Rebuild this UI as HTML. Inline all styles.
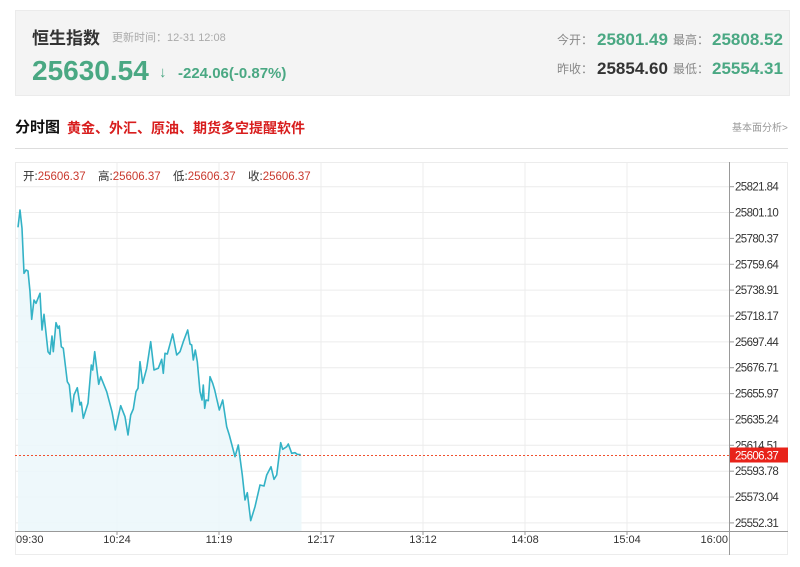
<!DOCTYPE html>
<html><head><meta charset="utf-8"><style>
*{margin:0;padding:0;box-sizing:border-box}
body{width:800px;height:567px;background:#fff;position:relative;overflow:hidden;font-family:"Liberation Sans","Noto Sans CJK SC",sans-serif}
.a{position:absolute;white-space:nowrap;line-height:1}
.hdr{position:absolute;left:15px;top:10px;width:775px;height:86px;background:#f4f4f4;border:1px solid #ebebeb}
.g{color:#4aa883;font-weight:bold}
.lb{color:#888;font-size:12px}
</style></head><body>
<div class="hdr"></div>
<div class="a" style="left:32px;top:30px;font-size:17px;font-weight:bold;color:#333">恒生指数</div>
<div class="a" style="left:112px;top:33px;font-size:11px;color:#aaa">更新时间：12-31 12:08</div>
<div class="a g" style="left:32px;top:57px;font-size:28px">25630.54</div>
<div class="a g" style="left:159px;top:65px;font-size:15px">↓</div>
<div class="a g" style="left:178px;top:66px;font-size:15px">-224.06(-0.87%)</div>

<div class="a lb" style="left:557px;top:34px">今开：</div>
<div class="a g" style="left:597px;top:31px;font-size:17px">25801.49</div>
<div class="a lb" style="left:673px;top:34px">最高：</div>
<div class="a g" style="left:712px;top:31px;font-size:17px">25808.52</div>
<div class="a lb" style="left:557px;top:63px">昨收：</div>
<div class="a" style="left:597px;top:60px;font-size:17px;font-weight:bold;color:#333">25854.60</div>
<div class="a lb" style="left:673px;top:63px">最低：</div>
<div class="a g" style="left:712px;top:60px;font-size:17px">25554.31</div>

<div class="a" style="left:15px;top:120px;font-size:15px;font-weight:bold;color:#111">分时图</div>
<div class="a" style="left:67px;top:121px;font-size:14px;font-weight:bold;color:#d81e1e">黄金、外汇、原油、期货多空提醒软件</div>
<div class="a" style="left:732px;top:124px;font-size:10px;color:#999">基本面分析&gt;</div>
<div style="position:absolute;left:15px;top:148px;width:773px;height:1px;background:#ddd"></div>

<svg style="position:absolute;left:0;top:0" width="800" height="567" xmlns="http://www.w3.org/2000/svg">
<rect x="15.5" y="162.5" width="772" height="392" fill="#fff" stroke="#ececec"/>
<g stroke="#ececec" stroke-width="1">
<line x1="15" x2="729" y1="186.7" y2="186.7"/><line x1="15" x2="729" y1="212.5" y2="212.5"/><line x1="15" x2="729" y1="238.4" y2="238.4"/><line x1="15" x2="729" y1="264.3" y2="264.3"/><line x1="15" x2="729" y1="290.1" y2="290.1"/><line x1="15" x2="729" y1="316" y2="316"/><line x1="15" x2="729" y1="341.9" y2="341.9"/><line x1="15" x2="729" y1="367.7" y2="367.7"/><line x1="15" x2="729" y1="393.6" y2="393.6"/><line x1="15" x2="729" y1="419.4" y2="419.4"/><line x1="15" x2="729" y1="445.3" y2="445.3"/><line x1="15" x2="729" y1="471.2" y2="471.2"/><line x1="15" x2="729" y1="497" y2="497"/><line x1="15" x2="729" y1="522.9" y2="522.9"/>
<line x1="117" x2="117" y1="162" y2="531"/><line x1="219" x2="219" y1="162" y2="531"/><line x1="321" x2="321" y1="162" y2="531"/><line x1="423" x2="423" y1="162" y2="531"/><line x1="525" x2="525" y1="162" y2="531"/><line x1="627" x2="627" y1="162" y2="531"/>
</g>
<polygon fill="#ecf7fb" fill-opacity="0.9" points="18,531 18,227.3 20,210 22,228.3 24,273.3 26,270 28,271 30,291.7 31.7,319.3 34,300 36,303.3 40,293.3 42,330 44,314.3 48,351.7 50,354.3 52,336 53.3,351.7 56,322.7 58,328.3 59.3,326 61.3,346.7 63.3,348.3 67.3,381.7 69.3,385 72,411.7 74,395 77.3,387.7 80,405 81.3,402.3 83.3,418.3 88,403.3 91.3,365 92.7,370 94.7,351.7 98.7,384.3 100.7,376.7 106.7,391.7 112,411.7 115.3,430 120.7,405.7 125,416.7 128,435 130.7,415 133.3,409 136,391.7 138,388.3 140,361.7 142.7,383.3 146.7,368.3 150.7,341.7 154,370 158.3,368.3 161.7,359.3 163.3,373.3 165,353.3 167.3,354 169.3,346.7 172.7,334 176.7,355 180,351.7 183.3,341.7 187.7,330 190,344 191.7,345 193.3,360 195.3,350 197.3,361.7 200,391.7 202,400 203.3,385 204.7,408.3 206,400 208.3,400.7 210,376.7 212.7,383.3 214.7,390 219.3,410 222.7,400 226.7,426.7 229.3,435 235,456.7 238.3,445 242.3,475 245,500 247.3,492.7 250.7,520.7 255,506.7 260,485 264,486 266.7,475 271,466.7 274,479.3 276.7,475 280.7,442.7 282.7,449.3 286.7,446.7 288.3,444 291.7,453.3 295,452.7 297.3,454.3 301.5,454.7 301.5,531"/>
<line x1="15" x2="729" y1="455.5" y2="455.5" stroke="#f0502f" stroke-width="1" stroke-dasharray="2,2"/>
<polyline fill="none" stroke="#33b2c6" stroke-width="1.6" stroke-linejoin="round" points="18,227.3 20,210 22,228.3 24,273.3 26,270 28,271 30,291.7 31.7,319.3 34,300 36,303.3 40,293.3 42,330 44,314.3 48,351.7 50,354.3 52,336 53.3,351.7 56,322.7 58,328.3 59.3,326 61.3,346.7 63.3,348.3 67.3,381.7 69.3,385 72,411.7 74,395 77.3,387.7 80,405 81.3,402.3 83.3,418.3 88,403.3 91.3,365 92.7,370 94.7,351.7 98.7,384.3 100.7,376.7 106.7,391.7 112,411.7 115.3,430 120.7,405.7 125,416.7 128,435 130.7,415 133.3,409 136,391.7 138,388.3 140,361.7 142.7,383.3 146.7,368.3 150.7,341.7 154,370 158.3,368.3 161.7,359.3 163.3,373.3 165,353.3 167.3,354 169.3,346.7 172.7,334 176.7,355 180,351.7 183.3,341.7 187.7,330 190,344 191.7,345 193.3,360 195.3,350 197.3,361.7 200,391.7 202,400 203.3,385 204.7,408.3 206,400 208.3,400.7 210,376.7 212.7,383.3 214.7,390 219.3,410 222.7,400 226.7,426.7 229.3,435 235,456.7 238.3,445 242.3,475 245,500 247.3,492.7 250.7,520.7 255,506.7 260,485 264,486 266.7,475 271,466.7 274,479.3 276.7,475 280.7,442.7 282.7,449.3 286.7,446.7 288.3,444 291.7,453.3 295,452.7 297.3,454.3 300.7,454.7"/>
<line x1="15" x2="788" y1="531.5" y2="531.5" stroke="#999"/>
<line x1="729.5" x2="729.5" y1="162" y2="555" stroke="#999"/>
<g stroke="#999">
<line x1="729" x2="734" y1="186.7" y2="186.7"/><line x1="729" x2="734" y1="212.5" y2="212.5"/><line x1="729" x2="734" y1="238.4" y2="238.4"/><line x1="729" x2="734" y1="264.3" y2="264.3"/><line x1="729" x2="734" y1="290.1" y2="290.1"/><line x1="729" x2="734" y1="316" y2="316"/><line x1="729" x2="734" y1="341.9" y2="341.9"/><line x1="729" x2="734" y1="367.7" y2="367.7"/><line x1="729" x2="734" y1="393.6" y2="393.6"/><line x1="729" x2="734" y1="419.4" y2="419.4"/><line x1="729" x2="734" y1="445.3" y2="445.3"/><line x1="729" x2="734" y1="471.2" y2="471.2"/><line x1="729" x2="734" y1="497" y2="497"/><line x1="729" x2="734" y1="522.9" y2="522.9"/>
<line x1="117" x2="117" y1="531" y2="535"/><line x1="219" x2="219" y1="531" y2="535"/><line x1="321" x2="321" y1="531" y2="535"/><line x1="423" x2="423" y1="531" y2="535"/><line x1="525" x2="525" y1="531" y2="535"/><line x1="627" x2="627" y1="531" y2="535"/>
</g>
<g font-family="Liberation Sans, sans-serif" font-size="11.5" fill="#333" letter-spacing="-0.6">
<text x="735" y="190.7">25821.84</text><text x="735" y="216.5">25801.10</text><text x="735" y="242.4">25780.37</text><text x="735" y="268.3">25759.64</text><text x="735" y="294.1">25738.91</text><text x="735" y="320">25718.17</text><text x="735" y="345.9">25697.44</text><text x="735" y="371.7">25676.71</text><text x="735" y="397.6">25655.97</text><text x="735" y="423.4">25635.24</text><text x="735" y="449.3">25614.51</text><text x="735" y="475.2">25593.78</text><text x="735" y="501">25573.04</text><text x="735" y="526.9">25552.31</text>
</g>
<rect x="730" y="447.5" width="58" height="15" fill="#e8231a"/>
<text x="735" y="459.3" font-family="Liberation Sans, sans-serif" font-size="11.5" fill="#fff" letter-spacing="-0.6">25606.37</text>
<g font-family="Liberation Sans, sans-serif" font-size="11" fill="#333">
<text x="16" y="543">09:30</text>
<text x="117" y="543" text-anchor="middle">10:24</text>
<text x="219" y="543" text-anchor="middle">11:19</text>
<text x="321" y="543" text-anchor="middle">12:17</text>
<text x="423" y="543" text-anchor="middle">13:12</text>
<text x="525" y="543" text-anchor="middle">14:08</text>
<text x="627" y="543" text-anchor="middle">15:04</text>
<text x="728" y="543" text-anchor="end">16:00</text>
</g>
<g font-family="Liberation Sans, Noto Sans CJK SC, sans-serif" font-size="11.5">
<text x="23" y="180"><tspan fill="#333">开:</tspan><tspan fill="#c9392e">25606.37</tspan></text>
<text x="98" y="180"><tspan fill="#333">高:</tspan><tspan fill="#c9392e">25606.37</tspan></text>
<text x="173" y="180"><tspan fill="#333">低:</tspan><tspan fill="#c9392e">25606.37</tspan></text>
<text x="248" y="180"><tspan fill="#333">收:</tspan><tspan fill="#c9392e">25606.37</tspan></text>
</g>
</svg>
</body></html>
